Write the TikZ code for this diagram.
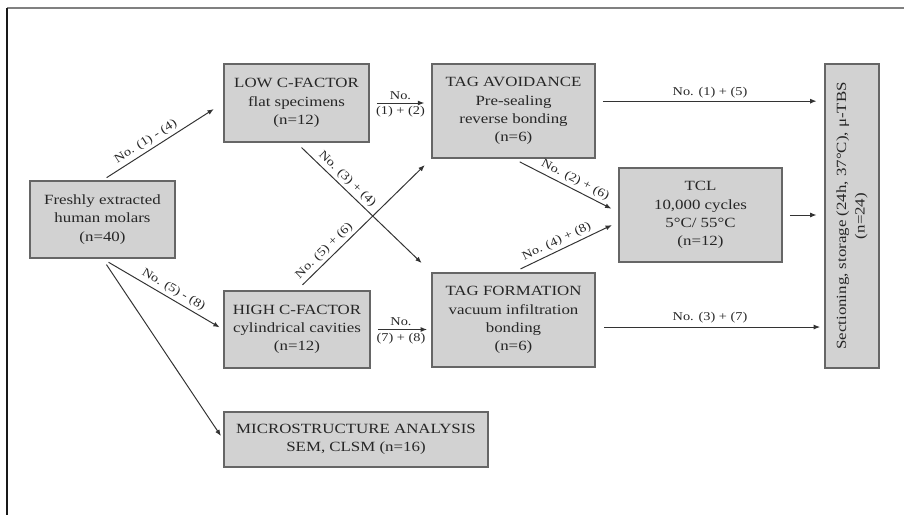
\documentclass[tikz,border=0pt]{standalone}
\usepackage{fontspec}
\setmainfont{Liberation Serif}[FakeStretch=1.2]
\usetikzlibrary{arrows.meta}

\begin{document}
\begin{tikzpicture}[x=0.025cm, y=-0.025cm,
box/.style={rectangle, draw=black!60, line width=1pt, fill=gray!35,
text=black!85, align=center, inner sep=2pt,
font=\fontsize{10}{13}\selectfont},
%
lbl/.style={text=black!85, inner sep=2.2pt,
font=\fontsize{8.5}{10}\selectfont},
%
link/.style={->, draw=black!80, line width=0.7pt, shorten <=5pt,
shorten >=5pt}]

\tikzset{>={Latex[length=4.5pt, width=3.5pt]}}

\useasboundingbox (0,0) rectangle (904,515);
\draw [black!50, line width=1.2pt] (904,8) -- (7,8);
\draw [black!90, line width=1pt] (7,8) -- (7,515);

\begin{scope}
  %%%%%%%%%%%%%%%%%%%%%%%%%%%%%%
  \node [box, minimum width=3.625cm, minimum height=1.925cm] (fresh)
  at (102.5,219.5) {Freshly extracted\\human molars\\(n=40)};
  %%%%%%%%%%%%%%%%%%%%%%%%%%%%%%
  \node [box, minimum width=3.625cm, minimum height=1.95cm] (low)
  at (296.5,103) {LOW C-FACTOR\\flat specimens\\(n=12)};
  \node [box, minimum width=3.65cm, minimum height=1.925cm] (high)
  at (297,329.5) {HIGH C-FACTOR\\cylindrical cavities\\(n=12)};
  \node [box, minimum width=6.6cm, minimum height=1.375cm] (micro)
  at (356,439.5) {MICROSTRUCTURE ANALYSIS\\SEM, CLSM (n=16)};
  %%%%%%%%%%%%%%%%%%%%%%%%%%%%%%
  \node [box, minimum width=4.075cm, minimum height=2.35cm] (avoid)
  at (513.5,111) {TAG AVOIDANCE\\Pre-sealing\\reverse bonding\\(n=6)};
  \node [box, minimum width=4.075cm, minimum height=2.35cm] (form)
  at (513.5,320) {TAG FORMATION\\vacuum infiltration\\bonding\\(n=6)};
  \node [box, minimum width=4.075cm, minimum height=2.35cm] (tcl)
  at (700.5,215) {TCL\\10,000 cycles\\5°C/ 55°C\\(n=12)};
  %%%%%%%%%%%%%%%%%%%%%%%%%%%%%%
  \node [box, rotate=90, minimum width=7.6cm, minimum height=1.35cm]
  (section) at (852,216) {Sectioning, storage (24h, 37°C), μ-TBS\\(n=24)};
\end{scope}

\begin{scope}
  \draw [link, shorten <=3.5pt, shorten >=8pt] (fresh.north) --
  node[lbl, sloped, above, pos=0.4] {No. (1) - (4)} (low.west);
  \draw [link, shorten >=3pt] (fresh.south) --
  node[lbl, sloped, above, pos=0.55] {No. (5) - (8)} (high.west);
  \draw [link, shorten >=3pt] (fresh.south) -- (micro.west);
  %%%%%%%%%%%%%%%%%%%%%%%%%%%%%%
  \draw [link] (low.east) -- node[lbl, above] {No.}
  node[lbl, below] {(1) + (2)} (low.east -| avoid.west);
  \draw [link, shorten >=9.5pt] (low.south) --
  node[lbl, sloped, above, pos=0.33] {No. (3) + (4)} (form.north west);
  \draw [link, shorten <=5.5pt, shorten >=6.5pt] (high.north) --
  node[lbl, sloped, above, pos=0.25] {No. (5) + (6)} (avoid.south west);
  \draw [link, shorten >=3pt] (high.east) -- node[lbl, above] {No.}
  node[lbl, below] {(7) + (8)} (high.east -| form.west);
  %%%%%%%%%%%%%%%%%%%%%%%%%%%%%%
  \draw [link, shorten >=5.5pt] (avoid.south) --
  node[lbl, sloped, above, pos=0.55] {No. (2) + (6)} ([yshift=2pt]tcl.west);
  \draw [link, shorten <=5.5pt] (form.north) --
  node[lbl, sloped, above, pos=0.45] {No. (4) + (8)} ([yshift=-5pt]tcl.west);
  %%%%%%%%%%%%%%%%%%%%%%%%%%%%%%
  \draw [link, shorten >=5.5pt] ([yshift=7pt]avoid.east) --
  node[lbl, above] {No. (1) + (5)} ([yshift=7pt]avoid.east -| section.north);
  \draw [link, shorten >=5.5pt] (tcl.east) -- (tcl.east -| section.north);
  \draw [link, shorten <=6pt, shorten >=3pt] ([yshift=-5pt]form.east) --
  node[lbl, above] {No. (3) + (7)} ([yshift=-5pt]form.east -| section.north);
\end{scope}

\end{tikzpicture}
\end{document}
